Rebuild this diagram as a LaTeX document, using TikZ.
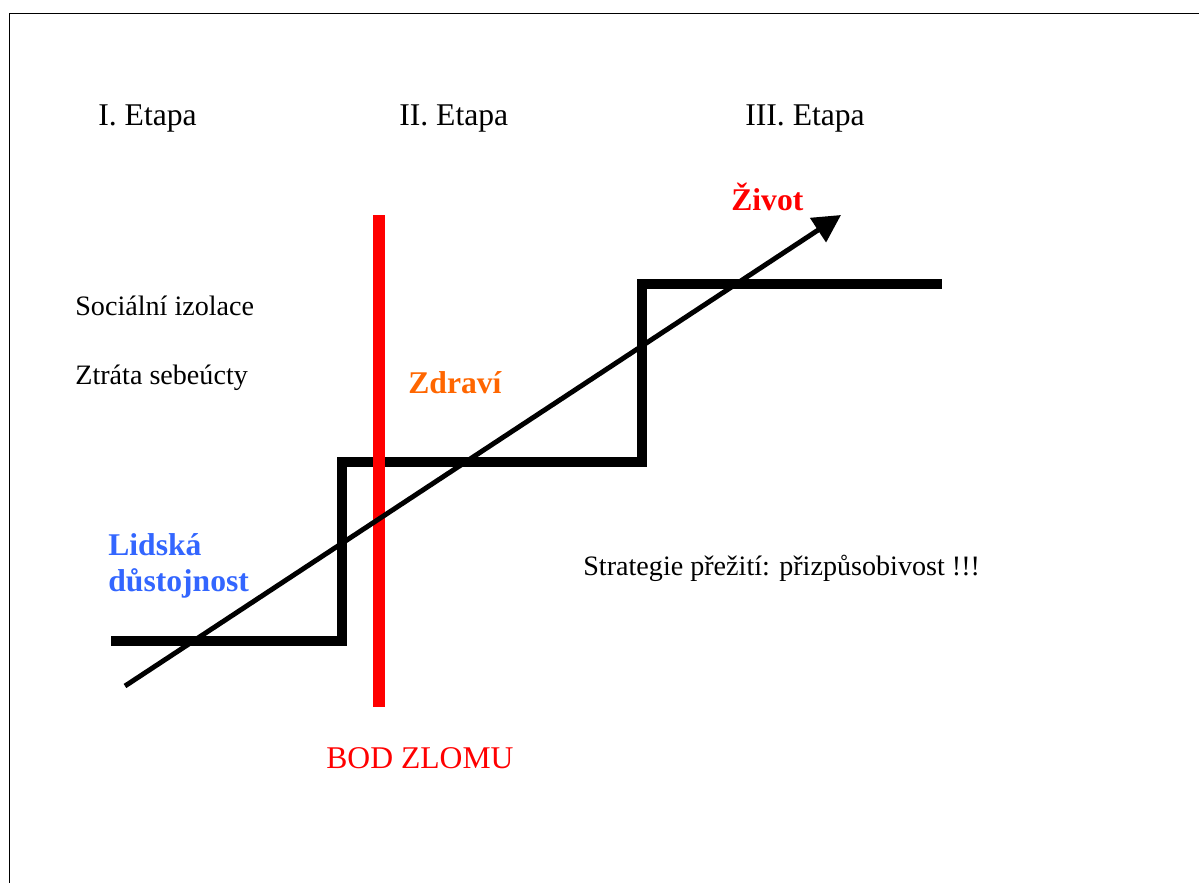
\documentclass[tikz,border=0pt]{standalone}
\usepackage{fontspec}
\setmainfont{Liberation Serif}
\usetikzlibrary{arrows.meta,positioning}
\definecolor{zlom}{RGB}{255,0,0}
\definecolor{zdravi}{RGB}{255,102,0}
\definecolor{lidska}{RGB}{51,102,255}
\tikzset{every node/.append style={inner sep=0pt, anchor=base west}}
\tikzset{etapa/.style={font=\fontsize{18}{21}\selectfont}}
\tikzset{popis/.style={font=\fontsize{16}{19}\selectfont}}
\tikzset{hodnota/.style={font=\fontsize{18}{21}\selectfont\bfseries}}
\tikzset{schody/.style={line width=6pt, miter limit=10}}

\begin{document}
\begin{tikzpicture}[x=0.02cm, y=-0.02cm]
\useasboundingbox (0,0) rectangle (1199,882);
\clip (0,0) rectangle (1199,882);
\draw[line width=1.1pt] (9.5,13.5) rectangle (1230,910);

% etapy
\node[etapa] (e1) at (98,125) {I. Etapa};
\node[etapa] (e2) at (399,125) {II. Etapa};
\node[etapa] (e3) at (745,125) {III. Etapa};

\node[popis] (izolace) at (75,315) {Sociální izolace};
\node[popis] (sebeucta) at (75,384) {Ztráta sebeúcty};
\node[popis] (strategie) at (583,575) {Strategie přežití: přizpůsobivost !!!};

% schody
\coordinate (s0) at (111,641);
\coordinate (s1) at (342,641);
\coordinate (s2) at (342,462);
\coordinate (s3) at (642,462);
\coordinate (s4) at (642,284);
\coordinate (s5) at (942,284);
\draw[schody] (s0) -- (s1) -- (s2) -- (s3) -- (s4) -- (s5);

% bod zlomu
\coordinate (z0) at (379,215);
\coordinate (z1) at (379,707);
\draw[zlom, line width=6.8pt] (z0) -- (z1);
\node[zlom, etapa] (bod) at (326,768) {BOD ZLOMU};

% zivot
\coordinate (a0) at (125,686);
\coordinate (a1) at (841,215);
\draw[line width=2.8pt, -{Triangle[length=15.7pt, width=16pt]}] (a0) -- (a1);

\node[hodnota, zlom] (zivot) at (731,210) {Život};
\node[hodnota, zdravi] (zdr) at (408,393) {Zdraví};
\node[hodnota, lidska] (lid) at (108,555) {Lidská};
\node[hodnota, lidska] (dust) at (108,591) {důstojnost};
\end{tikzpicture}
\end{document}
